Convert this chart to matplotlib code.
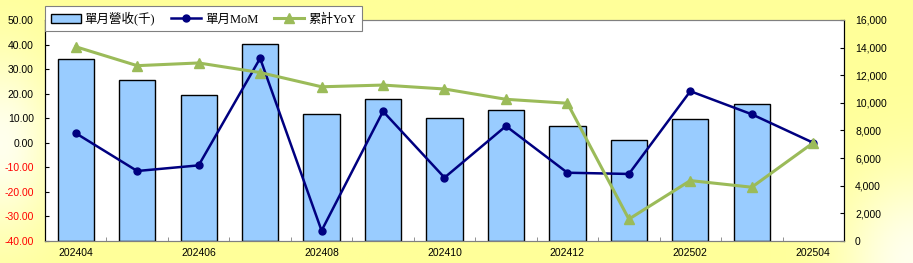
import numpy as np
import matplotlib
matplotlib.use('Agg')
import matplotlib.pyplot as plt
from matplotlib.ticker import FuncFormatter, FixedLocator

plt.rcParams['font.family'] = ['Liberation Sans', 'Noto Sans CJK TC', 'DejaVu Sans']

months = ['202404', '202405', '202406', '202407', '202408', '202409', '202410',
          '202411', '202412', '202501', '202502', '202503', '202504']
revenue = [13150, 11660, 10590, 14290, 9170, 10300, 8880, 9480, 8350, 7290, 8850, 9900, np.nan]
mom = [3.9, -11.5, -9.2, 34.4, -35.8, 12.8, -14.2, 6.8, -12.2, -12.7, 21.0, 11.6, 0.0]
yoy = [39.1, 31.4, 32.5, 28.6, 22.8, 23.5, 21.9, 17.7, 16.1, -31.1, -15.4, -18.1, 0.0]

fig = plt.figure(figsize=(9.13, 2.63), dpi=100)

# yellow gradient background
bg = fig.add_axes([0, 0, 1, 1], zorder=-10)
xx, yy = np.meshgrid(np.linspace(0, 1, 300), np.linspace(0, 1, 100))
pale = np.maximum(np.exp(-((xx / 0.06) ** 2 + ((yy - 0.45) / 0.35) ** 2)),
                  np.exp(-(((xx - 1) / 0.08) ** 2 + (yy / 0.35) ** 2)))
yellow = np.array([1.0, 1.0, 0.6])
white = np.array([1.0, 1.0, 0.93])
img = yellow[None, None, :] * (1 - pale[..., None]) + white[None, None, :] * pale[..., None]
bg.imshow(img, aspect='auto', origin='lower', extent=[0, 1, 0, 1])
bg.axis('off')

ax1 = fig.add_axes([0.0493, 0.0837, 0.8751, 0.8403])
x = np.arange(len(months))
bars = ax1.bar(x, revenue, width=0.59, color='#99CCFF', edgecolor='black', linewidth=1.0,
               label='單月營收(千)', zorder=2)
ax2 = ax1.twinx()

ax1.set_ylim(0, 16000)
ax1.set_xlim(-0.5, len(months) - 0.5)
ax1.yaxis.tick_right()
ax1.set_yticks(np.arange(0, 16001, 2000))
ax1.yaxis.set_major_formatter(FuncFormatter(lambda v, p: '{:,.0f}'.format(v)))
ax1.tick_params(axis='y', direction='in', length=3, labelsize=7.5, pad=8)

ax1.set_xticks(x[::2])
ax1.set_xticklabels(months[::2])
ax1.xaxis.set_minor_locator(FixedLocator(np.arange(0.5, len(months) - 0.5, 1)))
ax1.tick_params(axis='x', which='major', length=0, labelsize=7.5, pad=5)
ax1.tick_params(axis='x', which='minor', direction='in', length=3, color='#808080')

ax2.yaxis.tick_left()
l1, = ax2.plot(x, mom, color='#000080', linewidth=1.8, marker='o', markersize=5,
               label='單月MoM', zorder=3)
l2, = ax2.plot(x, yoy, color='#9BBB59', linewidth=2.2, marker='^', markersize=7,
               label='累計YoY', zorder=4)
ax2.set_ylim(-40, 50)
ax2.set_yticks(np.arange(-40, 51, 10))
ax2.yaxis.set_major_formatter(FuncFormatter(lambda v, p: '%.2f' % v))
ax2.tick_params(axis='y', direction='in', length=3, labelsize=7.5, pad=8)
for lab, v in zip(ax2.get_yticklabels(), np.arange(-40, 51, 10)):
    if v < 0:
        lab.set_color('#FF0000')

for a in (ax1, ax2):
    a.spines['top'].set_color('#808080')
    a.spines['bottom'].set_color('#808080')
    a.spines['left'].set_color('black')
    a.spines['right'].set_color('black')

leg = ax2.legend([bars, l1, l2], ['單月營收(千)', '單月MoM', '累計YoY'], ncol=3,
                 loc='upper left', bbox_to_anchor=(0.0493, 0.977),
                 bbox_transform=fig.transFigure, borderaxespad=0,
                 fancybox=False, framealpha=1, edgecolor='#808080',
                 prop={'family': ['Liberation Serif', 'Noto Sans CJK TC', 'DejaVu Sans'], 'size': 9},
                 handlelength=2.4, handletextpad=0.3, columnspacing=1.3, borderpad=0.45)
leg.get_frame().set_linewidth(0.8)
leg.set_zorder(10)

fig.savefig('out.png', dpi=100)
